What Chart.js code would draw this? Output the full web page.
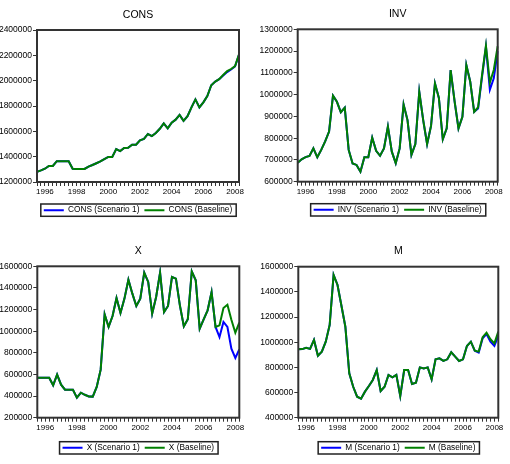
<!DOCTYPE html>
<html>
<head>
<meta charset="utf-8">
<script src="https://cdn.jsdelivr.net/npm/chart.js@4.4.1/dist/chart.umd.min.js"></script>
<style>
  body { margin: 0; background: #fff; }
  .panel { position: absolute; width: 255px; height: 232px; }
</style>
</head>
<body>
<div class="panel" style="left:0;top:0"><canvas id="consChart" width="255" height="232"></canvas></div>
<div class="panel" style="left:255px;top:0"><canvas id="invChart" width="255" height="232"></canvas></div>
<div class="panel" style="left:0;top:232px"><canvas id="xChart" width="255" height="232"></canvas></div>
<div class="panel" style="left:255px;top:232px"><canvas id="mChart" width="255" height="232"></canvas></div>
<script>
// quarterly observations
const quarters = [
    '1995Q3', '1995Q4',
    '1996Q1', '1996Q2', '1996Q3', '1996Q4',
    '1997Q1', '1997Q2', '1997Q3', '1997Q4',
    '1998Q1', '1998Q2', '1998Q3', '1998Q4',
    '1999Q1', '1999Q2', '1999Q3', '1999Q4',
    '2000Q1', '2000Q2', '2000Q3', '2000Q4',
    '2001Q1', '2001Q2', '2001Q3', '2001Q4',
    '2002Q1', '2002Q2', '2002Q3', '2002Q4',
    '2003Q1', '2003Q2', '2003Q3', '2003Q4',
    '2004Q1', '2004Q2', '2004Q3', '2004Q4',
    '2005Q1', '2005Q2', '2005Q3', '2005Q4',
    '2006Q1', '2006Q2', '2006Q3', '2006Q4',
    '2007Q1', '2007Q2', '2007Q3', '2007Q4',
    '2008Q1', '2008Q2'
];

// CONS
const consScenario = [1280000, 1292000, 1305000, 1327000, 1327000, 1364000, 1364000, 1364000, 1364000, 1305000,
    1303000, 1303000, 1303000, 1322000, 1334000, 1348000, 1362000, 1380000, 1398000, 1398000,
    1460000, 1444000, 1468000, 1470000, 1494000, 1494000, 1529000, 1540000, 1579000, 1563000,
    1587000, 1620000, 1662000, 1624000, 1669000, 1692000, 1730000, 1683000, 1720000, 1789000,
    1852000, 1789000, 1829000, 1879000, 1964000, 1993000, 2012000, 2040000, 2068000, 2088000,
    2112000, 2205000];
const consBaseline = [1280000, 1292000, 1305000, 1327000, 1327000, 1364000, 1364000, 1364000, 1364000, 1305000,
    1303000, 1303000, 1303000, 1322000, 1334000, 1348000, 1362000, 1380000, 1398000, 1398000,
    1460000, 1444000, 1468000, 1470000, 1494000, 1494000, 1529000, 1540000, 1579000, 1563000,
    1587000, 1620000, 1662000, 1624000, 1669000, 1692000, 1730000, 1683000, 1720000, 1789000,
    1852000, 1789000, 1829000, 1879000, 1964000, 1993000, 2012000, 2045000, 2075000, 2092000,
    2115000, 2208000];

// INV
const invScenario = [687000, 703000, 713000, 718000, 753000, 712000, 746000, 785000, 830000, 995000,
    967000, 919000, 940000, 746000, 684000, 677000, 646000, 712000, 712000, 802000,
    742000, 719000, 753000, 853000, 738000, 685000, 753000, 955000, 883000, 723000,
    773000, 1013000, 883000, 773000, 856000, 1052000, 985000, 795000, 845000, 1113000,
    970000, 845000, 898000, 1136000, 1059000, 921000, 936000, 1080000, 1220000, 1022000,
    1075000, 1200000];
const invBaseline = [687000, 703000, 713000, 718000, 753000, 712000, 746000, 785000, 830000, 995000,
    967000, 919000, 940000, 746000, 684000, 677000, 646000, 712000, 712000, 802000,
    742000, 719000, 753000, 853000, 738000, 685000, 753000, 955000, 883000, 723000,
    773000, 1013000, 883000, 773000, 856000, 1052000, 985000, 795000, 845000, 1113000,
    970000, 845000, 898000, 1136000, 1059000, 921000, 942000, 1090000, 1225000, 1055000,
    1113000, 1222000];

// X
const xScenario = [570000, 570000, 570000, 570000, 500000, 598000, 505000, 459000, 459000, 459000,
    385000, 431000, 412000, 397000, 395000, 484000, 644000, 1156000, 1039000, 1140000,
    1307000, 1168000, 1301000, 1476000, 1347000, 1233000, 1301000, 1541000, 1455000, 1162000,
    1316000, 1541000, 1177000, 1233000, 1501000, 1486000, 1239000, 1045000, 1110000, 1553000,
    1470000, 1023000, 1110000, 1193000, 1362000, 1039000, 946000, 1085000, 1039000, 838000,
    752000, 832000];
const xBaseline = [570000, 570000, 570000, 570000, 500000, 598000, 505000, 459000, 459000, 459000,
    385000, 431000, 412000, 397000, 395000, 484000, 644000, 1156000, 1039000, 1140000,
    1307000, 1168000, 1301000, 1476000, 1347000, 1233000, 1301000, 1541000, 1455000, 1162000,
    1316000, 1541000, 1177000, 1233000, 1501000, 1486000, 1239000, 1045000, 1110000, 1553000,
    1470000, 1023000, 1110000, 1193000, 1362000, 1039000, 1054000, 1214000, 1245000, 1106000,
    986000, 1079000];

// M
const mScenario = [944000, 945000, 956000, 947000, 1018000, 893000, 925000, 1004000, 1137000, 1534000,
    1455000, 1290000, 1123000, 753000, 646000, 567000, 551000, 607000, 652000, 700000,
    779000, 612000, 646000, 740000, 721000, 740000, 572000, 779000, 779000, 668000,
    678000, 800000, 792000, 800000, 705000, 864000, 872000, 851000, 864000, 920000,
    885000, 851000, 864000, 970000, 1004000, 932000, 918000, 1030000, 1065000, 1004000,
    970000, 1050000];
const mBaseline = [944000, 945000, 956000, 947000, 1018000, 893000, 925000, 1004000, 1137000, 1534000,
    1455000, 1290000, 1123000, 753000, 646000, 567000, 551000, 607000, 652000, 700000,
    779000, 612000, 646000, 740000, 721000, 740000, 572000, 779000, 779000, 668000,
    678000, 800000, 792000, 800000, 705000, 864000, 872000, 851000, 864000, 920000,
    885000, 851000, 864000, 970000, 1004000, 932000, 925000, 1039000, 1076000, 1023000,
    991000, 1084000];

const fontFamily = '"Liberation Sans", Arial, sans-serif';

// dark frame round the plot and a box round the legend
const framePlugin = {
    id: 'frame',
    afterDraw(chart) {
        const ctx = chart.ctx;
        const area = chart.chartArea;
        ctx.save();
        ctx.strokeStyle = '#333';
        ctx.lineWidth = 2;
        ctx.strokeRect(area.left, area.top, area.right - area.left, area.bottom - area.top);
        const boxes = chart.legend.legendHitBoxes;
        if (boxes && boxes.length) {
            const left = Math.min(...boxes.map(b => b.left)) - 3;
            const right = Math.max(...boxes.map(b => b.left + b.width)) + 4;
            const top = boxes[0].top - 2;
            ctx.lineWidth = 1.5;
            ctx.strokeStyle = '#222';
            ctx.strokeRect(left, top, right - left, boxes[0].height + 4);
        }
        ctx.restore();
    }
};

// Function to create one panel
function createChart(elementId, title, labelScenario, labelBaseline, scenario, baseline, yMin, yMax, yStep, box) {
    const ctx = document.getElementById(elementId).getContext('2d');
    new Chart(ctx, {
        type: 'line',
        data: {
            labels: quarters,
            datasets: [{
                label: labelScenario,
                data: scenario,
                borderColor: '#0000ff',
                backgroundColor: '#0000ff',
                borderWidth: 2,
                pointRadius: 0,
                tension: 0,
                order: 1
            }, {
                label: labelBaseline,
                data: baseline,
                borderColor: '#008000',
                backgroundColor: '#008000',
                borderWidth: 2,
                pointRadius: 0,
                tension: 0,
                order: 0
            }]
        },
        options: {
            responsive: false,
            animation: false,
            layout: {
                padding: { left: 0, right: box.padRight, top: 0, bottom: box.padBottom }
            },
            plugins: {
                title: {
                    display: true,
                    text: title,
                    fullSize: false,
                    color: '#000',
                    font: { family: fontFamily, size: 10.5, weight: 'normal' },
                    padding: { top: box.titleTop, bottom: box.titleBottom }
                },
                legend: {
                    position: 'bottom',
                    fullSize: false,
                    labels: {
                        usePointStyle: true,
                        pointStyle: 'line',
                        pointStyleWidth: 20,
                        padding: 5,
                        color: '#000',
                        font: { family: fontFamily, size: 8.3 },
                        sort: (a, b) => a.datasetIndex - b.datasetIndex
                    }
                },
                tooltip: { enabled: false }
            },
            scales: {
                x: {
                    type: 'category',
                    offset: false,
                    grid: { drawOnChartArea: false, tickLength: 4, color: '#333' },
                    border: { display: true, color: '#333' },
                    ticks: {
                        autoSkip: false,
                        maxRotation: 0,
                        minRotation: 0,
                        padding: 1,
                        color: '#000',
                        font: { family: fontFamily, size: 8 },
                        callback: function (value, index) {
                            const q = quarters[index];
                            const year = Number(q.slice(0, 4));
                            return (q.endsWith('Q1') && year % 2 === 0) ? String(year) : '';
                        }
                    },
                    afterFit: scale => { scale.height = box.xHeight; }
                },
                y: {
                    min: yMin,
                    max: yMax,
                    grid: { drawOnChartArea: false, tickLength: 4, color: '#333' },
                    border: { display: true, color: '#333' },
                    ticks: {
                        stepSize: yStep,
                        padding: 1,
                        color: '#000',
                        font: { family: fontFamily, size: 8.5 },
                        callback: value => String(value)
                    },
                    afterFit: scale => { scale.width = box.yWidth; }
                }
            }
        },
        plugins: [framePlugin]
    });
}

createChart('consChart', 'CONS', 'CONS (Scenario 1)', 'CONS (Baseline)', consScenario, consBaseline,
    1200000, 2400000, 200000,
    { yWidth: 37, padRight: 16, titleTop: 8.4, titleBottom: 9, xHeight: 19, padBottom: 7.7 });
createChart('invChart', 'INV', 'INV (Scenario 1)', 'INV (Baseline)', invScenario, invBaseline,
    600000, 1300000, 100000,
    { yWidth: 42.7, padRight: 12.3, titleTop: 8, titleBottom: 8.7, xHeight: 19, padBottom: 8 });
createChart('xChart', 'X', 'X (Scenario 1)', 'X (Baseline)', xScenario, xBaseline,
    200000, 1600000, 200000,
    { yWidth: 37.3, padRight: 15.7, titleTop: 12.7, titleBottom: 9, xHeight: 21, padBottom: 2 });
createChart('mChart', 'M', 'M (Scenario 1)', 'M (Baseline)', mScenario, mBaseline,
    400000, 1600000, 200000,
    { yWidth: 43.3, padRight: 11.7, titleTop: 12.7, titleBottom: 9.4, xHeight: 21, padBottom: 2 });
</script>
</body>
</html>
